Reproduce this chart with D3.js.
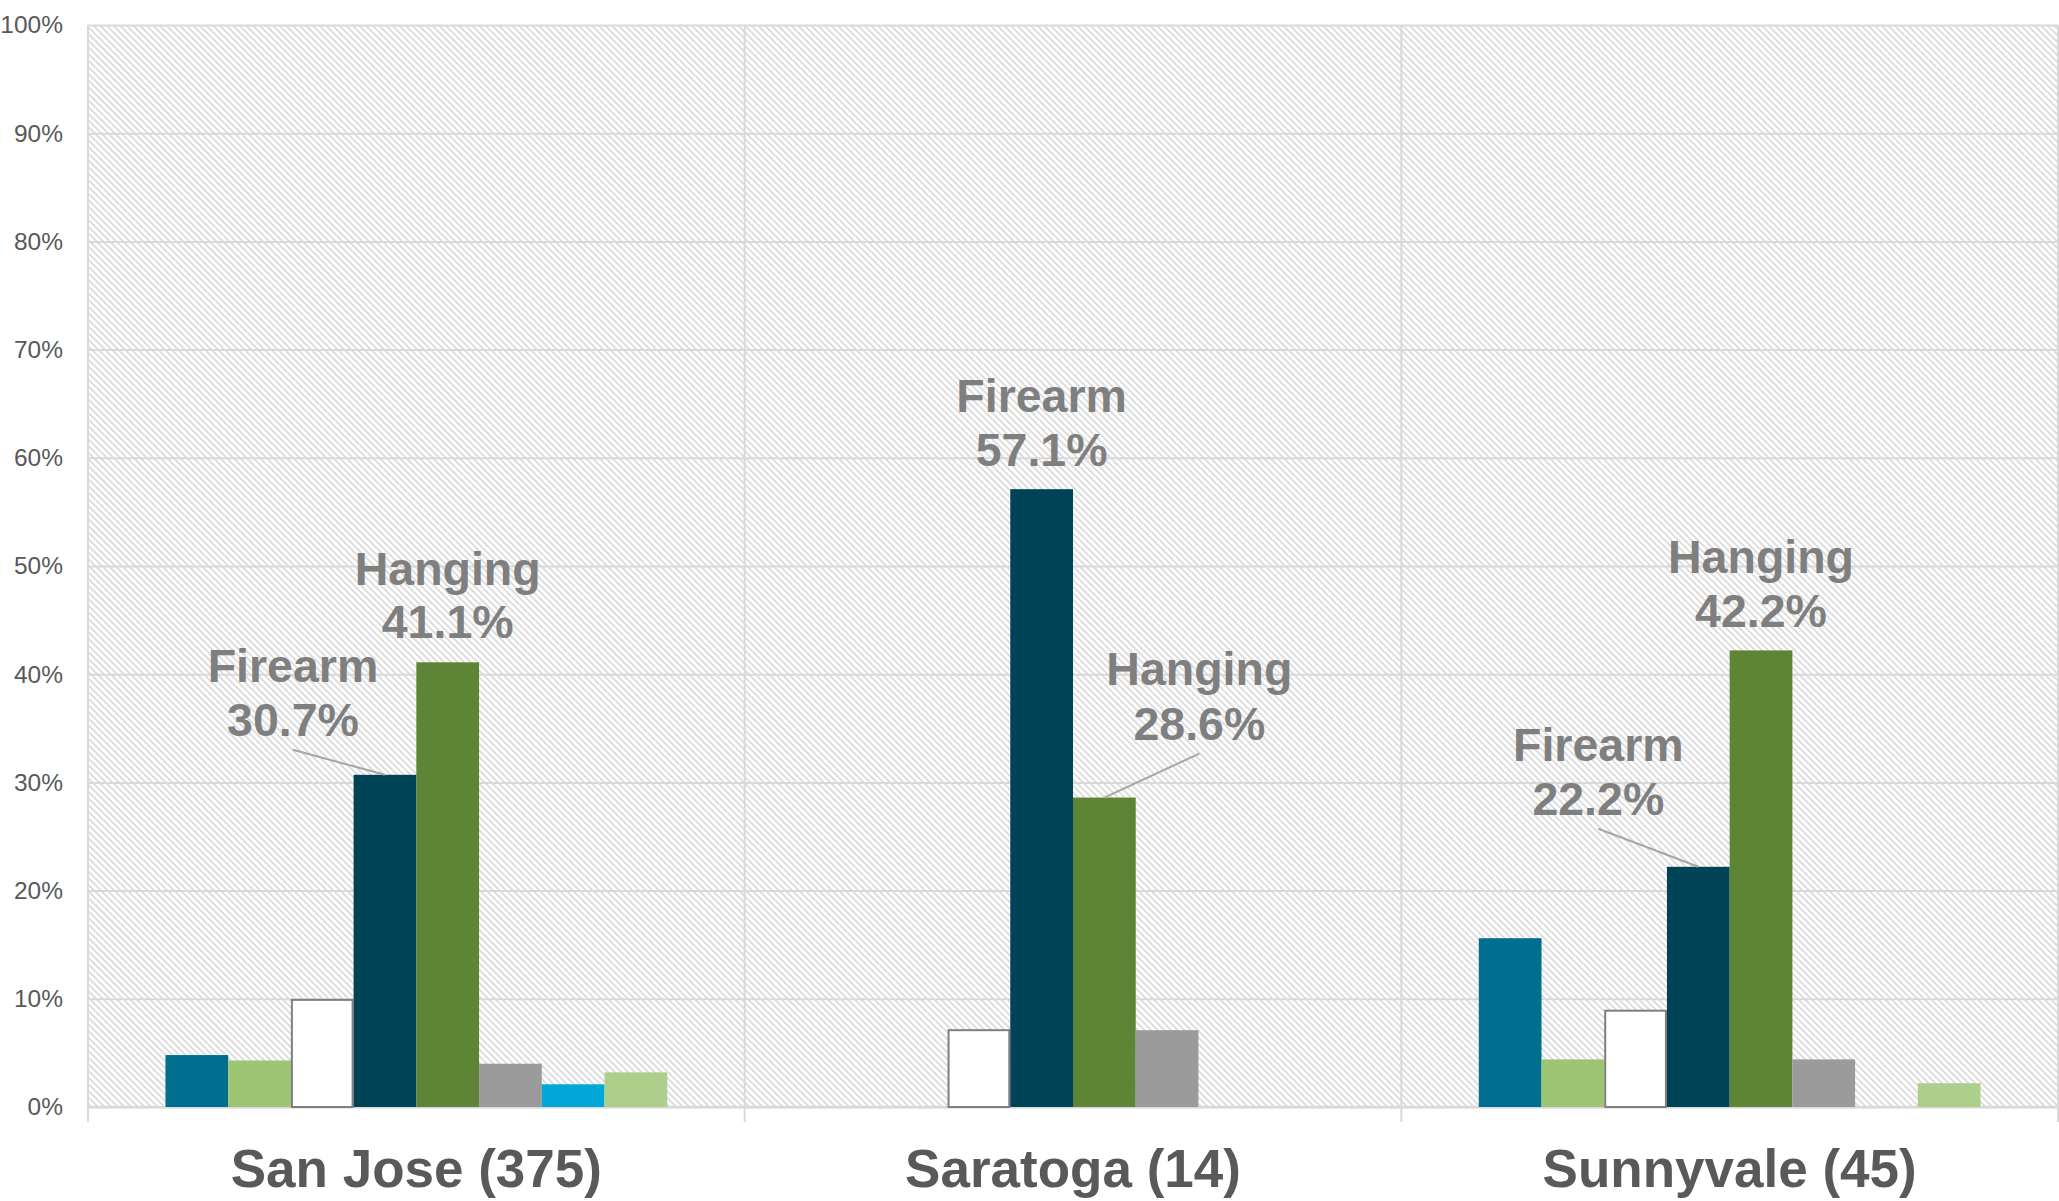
<!DOCTYPE html>
<html>
<head>
<meta charset="utf-8">
<script src="https://cdn.jsdelivr.net/npm/d3@7"></script>
<style>
  html, body { margin: 0; padding: 0; background: #ffffff; }
  svg { display: block; }
</style>
</head>
<body>
<svg id="chart" width="2059" height="1201"></svg>
<script>
// ---------------- DATA ----------------
const categories = ["San Jose (375)", "Saratoga (14)", "Sunnyvale (45)"];
const seriesNames = ["Cut/Pierce", "Drowning", "Fall", "Firearm", "Hanging", "Jump", "Other", "Poisoning"];
const cutPierce = [4.8, 0, 15.6];
const drowning  = [4.3, 0, 4.4];
const fall      = [9.9, 7.1, 8.9];
const firearm   = [30.7, 57.1, 22.2];
const hanging   = [41.1, 28.6, 42.2];
const jump      = [4.0, 7.1, 4.4];
const other     = [2.1, 0, 0];
const poisoning = [3.2, 0, 2.2];
const yTicks = [0, 10, 20, 30, 40, 50, 60, 70, 80, 90, 100];
const yTickLabels = ["0%", "10%", "20%", "30%", "40%", "50%", "60%", "70%", "80%", "90%", "100%"];
// annotated bars: [category index, series name, label word]
const annotations = [
  [0, "Firearm", "Firearm"],
  [0, "Hanging", "Hanging"],
  [1, "Firearm", "Firearm"],
  [1, "Hanging", "Hanging"],
  [2, "Firearm", "Firearm"],
  [2, "Hanging", "Hanging"]
];

// ---------------- STYLE / LAYOUT ----------------
const seriesValues = [cutPierce, drowning, fall, firearm, hanging, jump, other, poisoning];
const colors = ["#006E8F", "#9DC574", "#FFFFFF", "#004356", "#5E8536", "#9B9B9B", "#00A7D8", "#AECE8C"];
const strokes = ["none", "none", "#7F7F7F", "none", "none", "none", "none", "none"];
// label placement (pixel offsets from bar top centre)
const labelLayout = [
  { dx: -92, dy1: -93, dy2: -39, leader: true },
  { dx: 0,   dy1: -77, dy2: -24, leader: false },
  { dx: 0,   dy1: -77, dy2: -23, leader: false },
  { dx: 95,  dy1: -113, dy2: -58, leader: true },
  { dx: -100, dy1: -106, dy2: -52, leader: true },
  { dx: 0,   dy1: -77, dy2: -23, leader: false }
];

const svg = d3.select("#chart");
const plotLeft = 88, plotRight = 2058, plotTop = 25, plotBottom = 1107;

const x0 = d3.scaleBand().domain(categories).range([plotLeft, plotRight]).paddingInner(0).paddingOuter(0);
const x1 = d3.scaleBand().domain(seriesNames).range([0, x0.bandwidth()]).paddingInner(0).paddingOuter(1.235);
const y = d3.scaleLinear().domain([0, 100]).range([plotBottom, plotTop]);

// hatch pattern
const defs = svg.append("defs");
const pat = defs.append("pattern")
  .attr("id", "hatch")
  .attr("patternUnits", "userSpaceOnUse")
  .attr("width", 4.7).attr("height", 4.7)
  .attr("patternTransform", "rotate(-45)");
pat.append("rect").attr("width", 4.7).attr("height", 4.7).attr("fill", "#ffffff");
pat.append("rect").attr("x", 0).attr("y", 0).attr("width", 1.9).attr("height", 4.7).attr("fill", "#DCDCDC");

svg.append("rect")
  .attr("x", plotLeft).attr("y", plotTop)
  .attr("width", plotRight - plotLeft).attr("height", plotBottom - plotTop)
  .attr("fill", "url(#hatch)");

// y axis with gridlines
const yAxis = d3.axisLeft(y)
  .tickValues(yTicks)
  .tickFormat((d, i) => yTickLabels[i])
  .tickSize(-(plotRight - plotLeft))
  .tickPadding(25);
const gy = svg.append("g").attr("transform", `translate(${plotLeft},0)`).call(yAxis);
gy.select(".domain").remove();
gy.selectAll(".tick line").attr("stroke", "#D9D9D9").attr("stroke-width", 2);
gy.selectAll(".tick text")
  .attr("fill", "#595959")
  .style("font-family", "Liberation Sans, Arial, sans-serif")
  .style("font-size", "24.5px");

// vertical group boundaries (with small ticks below baseline)
const bounds = categories.map(c => x0(c)).concat([x0(categories[categories.length - 1]) + x0.bandwidth()]);
svg.append("g").selectAll("line").data(bounds).join("line")
  .attr("x1", d => d).attr("x2", d => d)
  .attr("y1", plotTop).attr("y2", plotBottom + 15)
  .attr("stroke", "#D9D9D9").attr("stroke-width", 2);

// baseline
svg.append("line")
  .attr("x1", plotLeft).attr("x2", plotRight)
  .attr("y1", y(0)).attr("y2", y(0))
  .attr("stroke", "#D9D9D9").attr("stroke-width", 2.5);

// bars
const barData = [];
categories.forEach((c, ci) => {
  seriesNames.forEach((s, si) => {
    barData.push({ c, ci, s, si, v: seriesValues[si][ci] });
  });
});
svg.append("g").selectAll("rect").data(barData.filter(d => d.v > 0)).join("rect")
  .attr("x", d => x0(d.c) + x1(d.s) + (strokes[d.si] !== "none" ? 1 : 0))
  .attr("y", d => y(d.v))
  .attr("width", d => x1.bandwidth() - (strokes[d.si] !== "none" ? 2 : 0))
  .attr("height", d => y(0) - y(d.v))
  .attr("fill", d => colors[d.si])
  .attr("stroke", d => strokes[d.si])
  .attr("stroke-width", 2);

// x axis category labels
const xAxis = d3.axisBottom(x0).tickSize(0).tickPadding(0);
const gx = svg.append("g").attr("transform", `translate(0,${plotBottom})`).call(xAxis);
gx.select(".domain").remove();
gx.selectAll(".tick text")
  .attr("y", 80).attr("dy", 0)
  .attr("fill", "#595959")
  .style("font-family", "Liberation Sans, Arial, sans-serif")
  .style("font-weight", "bold")
  .style("font-size", "53px");

// annotations
const ann = svg.append("g");
annotations.forEach((a, i) => {
  const [ci, s, word] = a;
  const si = seriesNames.indexOf(s);
  const v = seriesValues[si][ci];
  const cx = x0(categories[ci]) + x1(s) + x1.bandwidth() / 2;
  const ty = y(v);
  const L = labelLayout[i];
  if (L.leader) {
    ann.append("line")
      .attr("x1", cx + L.dx).attr("y1", ty + L.dy2 + 14)
      .attr("x2", cx).attr("y2", ty)
      .attr("stroke", "#A6A6A6").attr("stroke-width", 2);
  }
  const t = ann.append("text")
    .attr("text-anchor", "middle")
    .attr("fill", "#7F7F7F")
    .style("font-family", "Liberation Sans, Arial, sans-serif")
    .style("font-weight", "bold")
    .style("font-size", "46.5px");
  t.append("tspan").attr("x", cx + L.dx).attr("y", ty + L.dy1).text(word);
  t.append("tspan").attr("x", cx + L.dx).attr("y", ty + L.dy2).text(v.toFixed(1) + "%");
});
</script>
</body>
</html>
